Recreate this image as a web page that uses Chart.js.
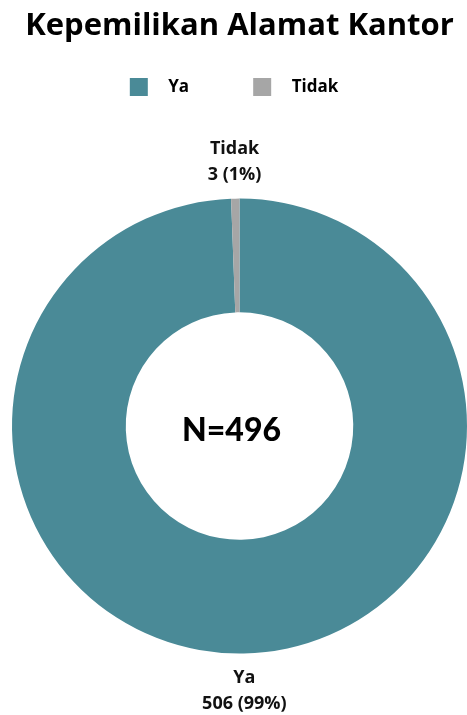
<!DOCTYPE html>
<html lang="id">
<head>
<meta charset="UTF-8">
<title>Kepemilikan Alamat Kantor</title>
<script src="https://cdn.jsdelivr.net/npm/chart.js"></script>
<style>
  html, body { margin: 0; padding: 0; background: #fff; }
  .box { width: 467px; height: 715px; }
</style>
</head>
<body>
<div class="box">
  <canvas id="ownerChart" width="467" height="715"></canvas>
</div>
<script>
  const categories = ['Ya', 'Tidak'];
  const counts = [506, 3];
  const percents = ['99%', '1%'];
  const totalN = 'N=496';
  const sliceColors = ['#4a8a97', '#a6a6a6'];

  // square swatch with blank space before it, used as legend point style
  function swatch(color) {
    const c = document.createElement('canvas');
    c.width = 61;
    c.height = 18;
    const g = c.getContext('2d');
    g.fillStyle = color;
    g.fillRect(31, 0, 18, 18);
    return c;
  }

  // push the donut down under the legend, and nudge the legend row left
  const legendSpacing = {
    id: 'legendSpacing',
    beforeInit(chart) {
      const fit = chart.legend.fit;
      chart.legend.fit = function () {
        fit.bind(chart.legend)();
        this.height += 93;
      };
    },
    afterLayout(chart) {
      chart.legend.right -= 42;
    }
  };

  const outsideLabels = {
    id: 'outsideLabels',
    afterDatasetsDraw(chart) {
      const ctx = chart.ctx;
      const meta = chart.getDatasetMeta(0);
      ctx.save();
      ctx.fillStyle = '#111';
      ctx.font = 'bold 18px "Open Sans"';
      ctx.textAlign = 'center';
      ctx.textBaseline = 'middle';
      meta.data.forEach((arc, i) => {
        const mid = (arc.startAngle + arc.endAngle) / 2;
        const r = arc.outerRadius + 37;
        const x = arc.x + Math.cos(mid) * r;
        const y = arc.y + Math.sin(mid) * r;
        ctx.fillText(categories[i], x, y - 13);
        ctx.fillText(counts[i] + ' (' + percents[i] + ')', x, y + 13);
      });
      const a = meta.data[0];
      ctx.fillStyle = '#000';
      ctx.font = '900 32px Lato';
      ctx.fillText(totalN, a.x - 8, a.y + 5);
      ctx.restore();
    }
  };

  new Chart(document.getElementById('ownerChart'), {
    type: 'doughnut',
    data: {
      labels: categories,
      datasets: [{
        data: counts,
        backgroundColor: sliceColors,
        borderWidth: 0
      }]
    },
    options: {
      responsive: false,
      animation: false,
      cutout: '50%',
      layout: { padding: { left: 12, right: 0, top: 0, bottom: 61 } },
      plugins: {
        title: {
          display: true,
          text: 'Kepemilikan Alamat Kantor',
          color: '#000',
          font: { family: '"Open Sans"', size: 31, weight: 'bold', lineHeight: 1.2 },
          padding: { top: 8, bottom: 0 }
        },
        legend: {
          position: 'top',
          labels: {
            usePointStyle: true,
            pointStyleWidth: 61,
            color: '#111',
            font: { family: '"Open Sans"', size: 17, weight: 'bold' },
            padding: 33,
            generateLabels(chart) {
              return categories.map((c, i) => ({
                text: c,
                pointStyle: swatch(sliceColors[i]),
                fillStyle: sliceColors[i],
                strokeStyle: sliceColors[i],
                lineWidth: 0,
                hidden: false,
                index: i
              }));
            }
          }
        },
        tooltip: { enabled: false }
      }
    },
    plugins: [legendSpacing, outsideLabels]
  });
</script>
</body>
</html>
